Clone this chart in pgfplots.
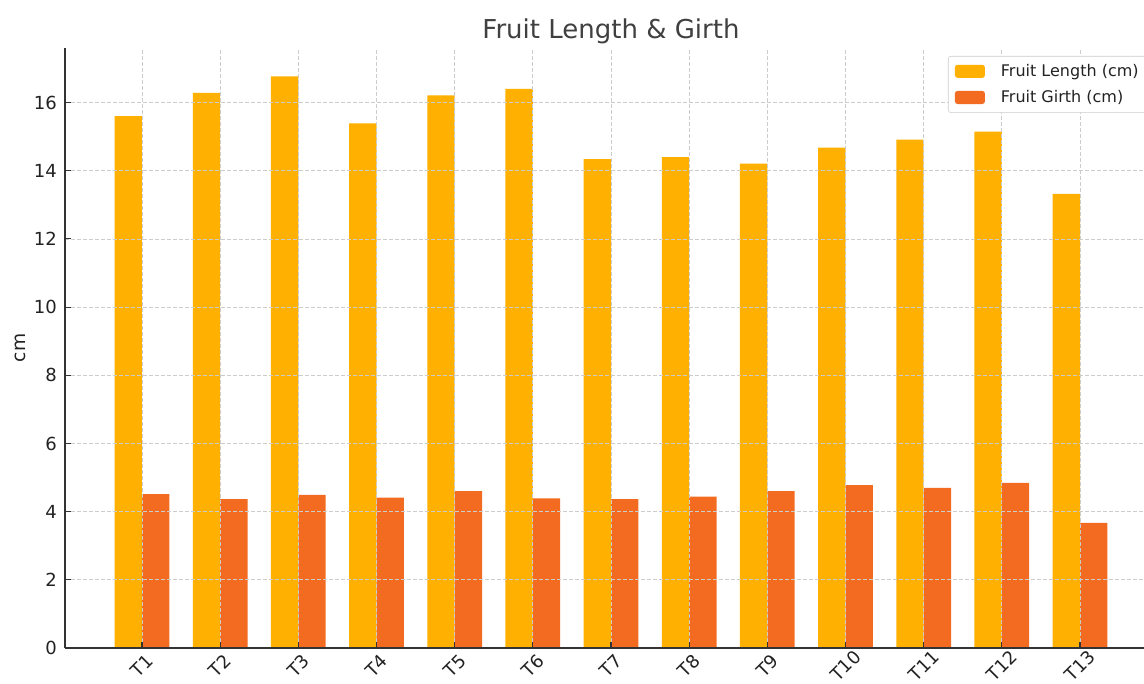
\documentclass[border=0pt]{standalone}
\usepackage{fontspec}
\setmainfont{DejaVu Sans}
\usepackage{pgfplots}
\usepackage{pgfplotstable}
\pgfplotsset{compat=1.18}
\definecolor{lenc}{RGB}{255,176,0}
\definecolor{girc}{RGB}{242,107,33}
\definecolor{gridc}{RGB}{204,204,204}
\definecolor{axc}{RGB}{51,51,51}
\definecolor{txc}{RGB}{34,34,34}

\pgfplotstableread{
x len gir
0 15.60 4.51
1 16.28 4.37
2 16.77 4.49
3 15.39 4.41
4 16.21 4.60
5 16.40 4.39
6 14.34 4.37
7 14.40 4.44
8 14.21 4.60
9 14.68 4.78
10 14.91 4.70
11 15.15 4.84
12 13.32 3.67
}\datatable

\begin{document}
\begin{tikzpicture}
\begin{axis}[
  name=ax,
  scale only axis,
  width=819pt, height=450pt,
  xmin=-0.985, xmax=12.985,
  ymin=0, ymax=17.6,
  axis x line=bottom, axis y line=left,
  axis line style={-, color=axc, line width=1.1pt},
  axis on top,
  ytick={0,2,...,16},
  xtick={0,...,12},
  xticklabels={T1,T2,T3,T4,T5,T6,T7,T8,T9,T10,T11,T12,T13},
  tick align=inside,
  major tick length=4.5pt,
  tick style={color=axc, line width=0.8pt},
  grid=major,
  major grid style={color=gridc, line width=0.6pt, dash pattern=on 3pt off 1.5pt},
  /pgf/number format/assume math mode=true,
  yticklabel style={font=\fontsize{13.5}{16}\selectfont, color=txc, inner sep=0pt, anchor=east, xshift=-6pt},
  xticklabel style={font=\fontsize{13.5}{16}\selectfont, color=txc, rotate=45, anchor=center},
  xticklabel shift=13.5pt,
  ylabel={cm},
  ylabel style={font=\fontsize{14}{17}\selectfont, color=txc, at={(axis description cs:-0.0366,0.5)}, rotate=0, anchor=base},
  title={Fruit Length \& Girth},
  title style={font=\fontsize{19.5}{23}\selectfont, color=black!75, at={(axis description cs:0.5,1)}, anchor=base, yshift=1pt},
  legend cell align=left,
  legend image code/.code={\fill[#1] (0pt,-4.9pt) rectangle (22.5pt,4.9pt);},
  legend style={at={(axis description cs:0.8086,0.9867)}, anchor=north west,
    draw=gridc, rounded corners=2pt, fill=white,
    font=\fontsize{12}{14}\selectfont, text=txc, row sep=5pt,
    inner xsep=5pt, inner ysep=4pt},
  /tikz/every odd column/.append style={column sep=10pt},
]
\addplot[ybar, bar width=0.35, bar shift=-0.175, fill=lenc, draw=none] table[x=x, y=len] {\datatable};
\addlegendentry{Fruit Length (cm)}
\addplot[ybar, bar width=0.35, bar shift=0.175, fill=girc, draw=none] table[x=x, y=gir] {\datatable};
\addlegendentry{Fruit Girth (cm)}
\end{axis}
\pgfresetboundingbox
\path[use as bounding box] ([shift={(-48.75pt,-27pt)}]ax.south west) rectangle ([shift={(-9.75pt,36pt)}]ax.north east);
\end{tikzpicture}
\end{document}
